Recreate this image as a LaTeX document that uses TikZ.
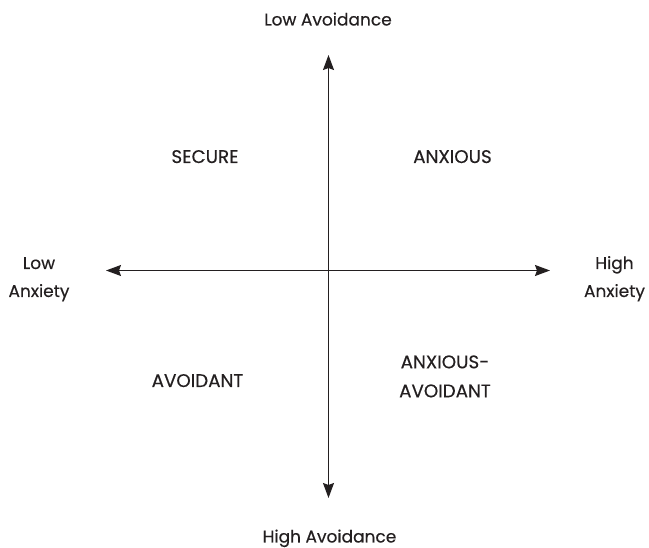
\documentclass[tikz,border=0pt]{standalone}
\usepackage{fontspec}
\setmainfont{Poppins}
\newfontfamily\lblfont{Poppins}[FakeBold=0.4]
\usetikzlibrary{arrows.meta}
\definecolor{ink}{HTML}{231F20}
\begin{document}
\begin{tikzpicture}[x=1pt,y=-1pt,
  lbl/.style={text=ink,font=\lblfont\fontsize{17}{28}\selectfont,inner sep=0pt,anchor=base,align=center},
  quad/.style={lbl,font=\lblfont\fontsize{18.3}{29}\selectfont},
  axis/.style={draw=ink,line width=1.3pt,{Stealth[length=15pt,width=11pt,inset=2pt]}-{Stealth[length=15pt,width=11pt,inset=2pt]}}]
\useasboundingbox (0,0) rectangle (649,548);
\coordinate (top) at (328.5,55);
\coordinate (bot) at (328.5,498);
\coordinate (lft) at (106,270.5);
\coordinate (rgt) at (550,270.5);
\draw[axis] (top) -- (bot);
\draw[axis] (lft) -- (rgt);
\node[lbl] (lowav) at (328,25.5) {Low Avoidance};
\node[lbl] (highav) at (329.5,542.5) {High Avoidance};
\node[lbl] (lowanx) at (39,297) {Low\\Anxiety};
\node[lbl] (highanx) at (614.5,297) {High\\Anxiety};
\node[quad] (secure) at (205,163) {SECURE};
\node[quad] (anxious) at (452.5,163) {ANXIOUS};
\node[quad] (avoidant) at (197.5,387) {AVOIDANT};
\node[quad] (anxav) at (445,397.3) {ANXIOUS-\\AVOIDANT};
\end{tikzpicture}
\end{document}
